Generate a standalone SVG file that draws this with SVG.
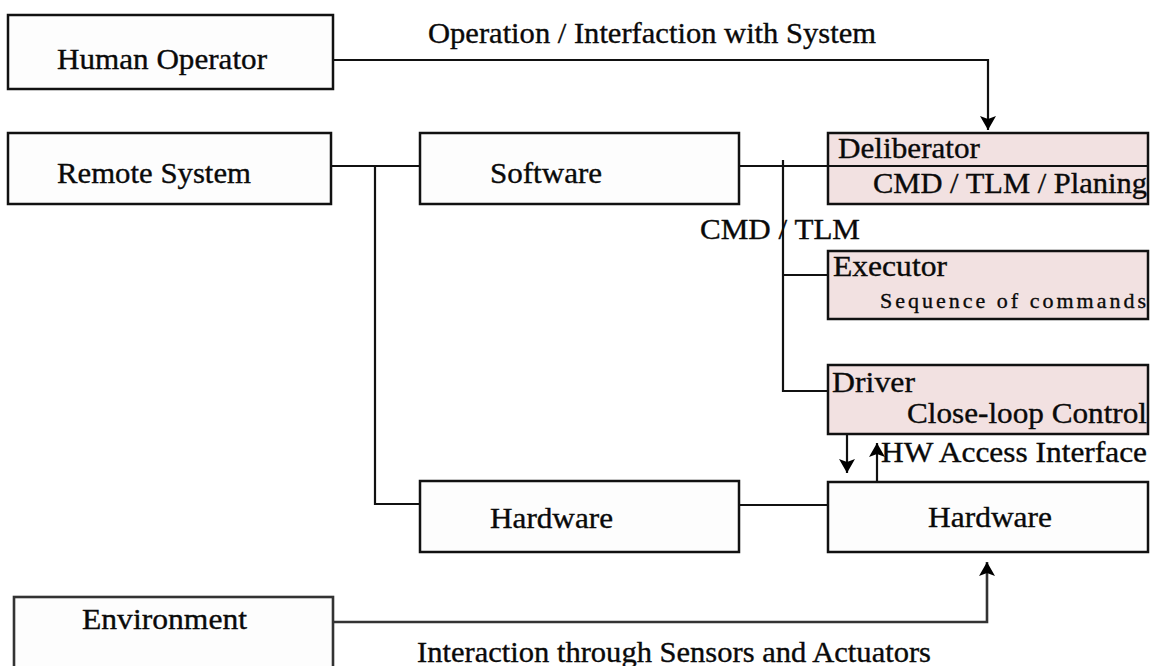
<svg xmlns="http://www.w3.org/2000/svg" width="1151" height="666" viewBox="0 0 1151 666">
  <defs>
    <marker id="arrow" viewBox="0 0 14 16" refX="14" refY="8" markerWidth="14" markerHeight="16" markerUnits="userSpaceOnUse" orient="auto">
      <path d="M0,0 L14,8 L0,16 L3,8 Z" fill="#000"/>
    </marker>
    <style>
      .box { fill: #fdfdfd; stroke: #111; stroke-width: 2.5; }
      .pink { fill: #f2e1e1; stroke: #111; stroke-width: 2.5; }
      .wire { fill: none; stroke: #111; stroke-width: 2.2; }
      .soft { fill: none; stroke: #333; stroke-width: 2.6; }
      text { font-family: "Liberation Serif", "DejaVu Serif", "Times New Roman", serif; font-size: 29px; fill: #0a0a0a; stroke: #0a0a0a; stroke-width: 0.35; }
      .small { font-size: 22px; }
    </style>
  </defs>

  <rect width="1151" height="666" fill="#ffffff"/>

  <!-- connectors -->
  <g id="connectors">
    <!-- operator to deliberator -->
    <path class="wire" d="M333,60 H988 V130" marker-end="url(#arrow)"/>
    <text x="428" y="43" textLength="448" lengthAdjust="spacingAndGlyphs">Operation / Interfaction with System</text>
    <!-- remote system bus -->
    <path class="wire" d="M331,166 H420"/>
    <path class="wire" d="M375,166 V504 H420"/>
    <!-- software to on-board layers -->
    <path class="wire" d="M739,166 H828"/>
    <path class="wire" d="M783,160 V391 H828"/>
    <path class="wire" d="M783,275 H828"/>
    <text x="700" y="239" textLength="160" lengthAdjust="spacingAndGlyphs">CMD / TLM</text>
    <!-- hardware link -->
    <path class="wire" d="M739,505 H828"/>
    <!-- driver / hardware access -->
    <path class="wire" d="M847,434 V473" marker-end="url(#arrow)"/>
    <path class="wire" d="M877,482 V443" marker-end="url(#arrow)"/>
    <text x="881" y="462" textLength="266" lengthAdjust="spacingAndGlyphs">HW Access Interface</text>
    <!-- environment interaction -->
    <path class="soft" d="M333,622 H987 V562" marker-end="url(#arrow)"/>
    <text x="417" y="662" textLength="514" lengthAdjust="spacingAndGlyphs">Interaction through Sensors and Actuators</text>
  </g>

  <g id="human-operator">
    <rect class="box" x="8" y="15" width="325" height="74"/>
    <text x="57" y="69" textLength="210" lengthAdjust="spacingAndGlyphs">Human Operator</text>
  </g>

  <g id="remote-system">
    <rect class="box" x="8" y="133" width="323" height="71"/>
    <text x="57" y="183" textLength="194" lengthAdjust="spacingAndGlyphs">Remote System</text>
  </g>

  <g id="software">
    <rect class="box" x="420" y="133" width="319" height="71"/>
    <text x="490" y="183" textLength="112" lengthAdjust="spacingAndGlyphs">Software</text>
  </g>

  <g id="hardware-remote">
    <rect class="box" x="420" y="481" width="319" height="71"/>
    <text x="490" y="528" textLength="123" lengthAdjust="spacingAndGlyphs">Hardware</text>
  </g>

  <g id="deliberator">
    <rect class="pink" x="828" y="133" width="320" height="71"/>
    <line x1="828" y1="166" x2="1148" y2="166" stroke="#111" stroke-width="2.2"/>
    <text x="838" y="158" textLength="142" lengthAdjust="spacingAndGlyphs">Deliberator</text>
    <text x="873" y="193" textLength="274" lengthAdjust="spacingAndGlyphs">CMD / TLM / Planing</text>
  </g>

  <g id="executor">
    <rect class="pink" x="828" y="251" width="320" height="68"/>
    <text x="833" y="276" textLength="114" lengthAdjust="spacingAndGlyphs">Executor</text>
    <text class="small" x="880" y="308" textLength="266" lengthAdjust="spacing">Sequence of commands</text>
  </g>

  <g id="driver">
    <rect class="pink" x="828" y="365" width="320" height="69"/>
    <text x="832" y="392" textLength="83" lengthAdjust="spacingAndGlyphs">Driver</text>
    <text x="907" y="423" textLength="240" lengthAdjust="spacingAndGlyphs">Close-loop Control</text>
  </g>

  <g id="hardware-onboard">
    <rect class="box" x="828" y="482" width="320" height="70"/>
    <text x="928" y="527" textLength="124" lengthAdjust="spacingAndGlyphs">Hardware</text>
  </g>

  <g id="environment">
    <rect x="14" y="597" width="319" height="80" fill="#fdfdfd" stroke="#333" stroke-width="2.6"/>
    <text x="82" y="629" textLength="165" lengthAdjust="spacingAndGlyphs">Environment</text>
  </g>
</svg>
